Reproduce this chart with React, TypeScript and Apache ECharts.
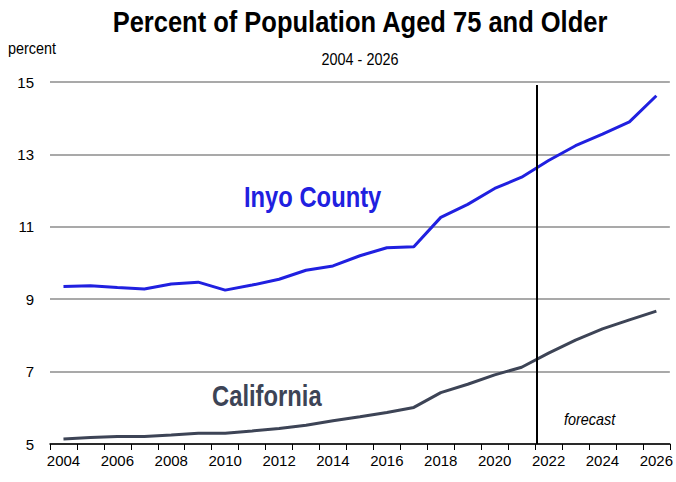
import React, { useEffect, useRef } from "react";
import * as echarts from "echarts";

const years = ["2004","2005","2006","2007","2008","2009","2010","2011","2012","2013","2014","2015","2016","2017","2018","2019","2020","2021","2022","2023","2024","2025","2026"];
const inyo = [9.35,9.37,9.32,9.28,9.42,9.47,9.25,9.39,9.55,9.8,9.92,10.2,10.42,10.45,11.26,11.62,12.06,12.37,12.83,13.24,13.56,13.9,14.62];
const california = [5.14,5.18,5.21,5.21,5.25,5.3,5.3,5.36,5.43,5.52,5.64,5.75,5.87,6.01,6.42,6.65,6.91,7.12,7.51,7.87,8.18,8.43,8.67];
const forecastBoundary = [2021.55];
const yTicks = { min: 5, max: 15, interval: 2 };

const FONT = "'Liberation Sans', Arial, sans-serif";

export default function App() {
  const ref = useRef<HTMLDivElement>(null);
  useEffect(() => {
    if (!ref.current) return;
    const chart = echarts.init(ref.current, undefined, { renderer: "svg" });
    chart.setOption({
      animation: false,
      backgroundColor: "#ffffff",
      grid: { left: 50, right: 4, top: 82, bottom: 38, containLabel: false },
      xAxis: [
        {
          type: "category",
          data: years,
          boundaryGap: true,
          axisLine: { show: true, lineStyle: { color: "#000", width: 1.5 } },
          axisTick: { show: true, length: 6, lineStyle: { color: "#000" }, interval: 0 },
          axisLabel: {
            interval: 1, color: "#000", fontFamily: FONT, fontSize: 15, margin: 9,
          },
          splitLine: { show: false },
        },
        {
          type: "value",
          min: 2003.5,
          max: 2026.5,
          show: false,
          position: "bottom",
        },
      ],
      yAxis: {
        type: "value",
        min: yTicks.min,
        max: yTicks.max,
        interval: yTicks.interval,
        axisLine: { show: false },
        axisTick: { show: false },
        axisLabel: { color: "#000", fontFamily: FONT, fontSize: 15, margin: 16 },
        splitLine: { show: true, lineStyle: { color: "#8c8c8c", width: 1.5 } },
      },
      series: [
        {
          type: "line",
          name: "Inyo County",
          data: inyo,
          symbol: "none",
          lineStyle: { color: "#2020e0", width: 3 },
          z: 3,
        },
        {
          type: "line",
          name: "California",
          data: california,
          symbol: "none",
          lineStyle: { color: "#3d4456", width: 3 },
          z: 3,
        },
        {
          type: "line",
          xAxisIndex: 1,
          data: [],
          markLine: {
            silent: true,
            symbol: ["none", "none"],
            label: { show: false },
            lineStyle: { color: "#000", width: 2, type: "solid" },
            data: [
              [
                { coord: [forecastBoundary[0], 14.92] },
                { coord: [forecastBoundary[0], 5] },
              ],
            ],
          },
          z: 4,
        },
      ],
      graphic: [
        {
          type: "text", x: 360, y: 7, scaleX: 0.85,
          style: { text: "Percent of Population Aged 75 and Older", fill: "#000", font: `bold 30px ${FONT}`, textAlign: "center", textVerticalAlign: "top" },
        },
        {
          type: "text", x: 360, y: 51, scaleX: 0.9,
          style: { text: "2004 - 2026", fill: "#000", font: `16px ${FONT}`, textAlign: "center", textVerticalAlign: "top" },
        },
        {
          type: "text", x: 8, y: 40, scaleX: 0.9,
          style: { text: "percent", fill: "#000", font: `16px ${FONT}`, textAlign: "left", textVerticalAlign: "top" },
        },
        {
          type: "text", x: 244, y: 183, scaleX: 0.82,
          style: { text: "Inyo County", fill: "#2020e0", font: `bold 29px ${FONT}`, textAlign: "left", textVerticalAlign: "top" },
        },
        {
          type: "text", x: 212, y: 382, scaleX: 0.82,
          style: { text: "California", fill: "#3d4456", font: `bold 29px ${FONT}`, textAlign: "left", textVerticalAlign: "top" },
        },
        {
          type: "text", x: 564, y: 411, scaleX: 0.9,
          style: { text: "forecast", fill: "#000", font: `italic 16px ${FONT}`, textAlign: "left", textVerticalAlign: "top" },
        },
      ],
    });
    return () => chart.dispose();
  }, []);
  return <div ref={ref} style={{ width: 676, height: 482, position: "absolute", left: 0, top: 0 }} />;
}
